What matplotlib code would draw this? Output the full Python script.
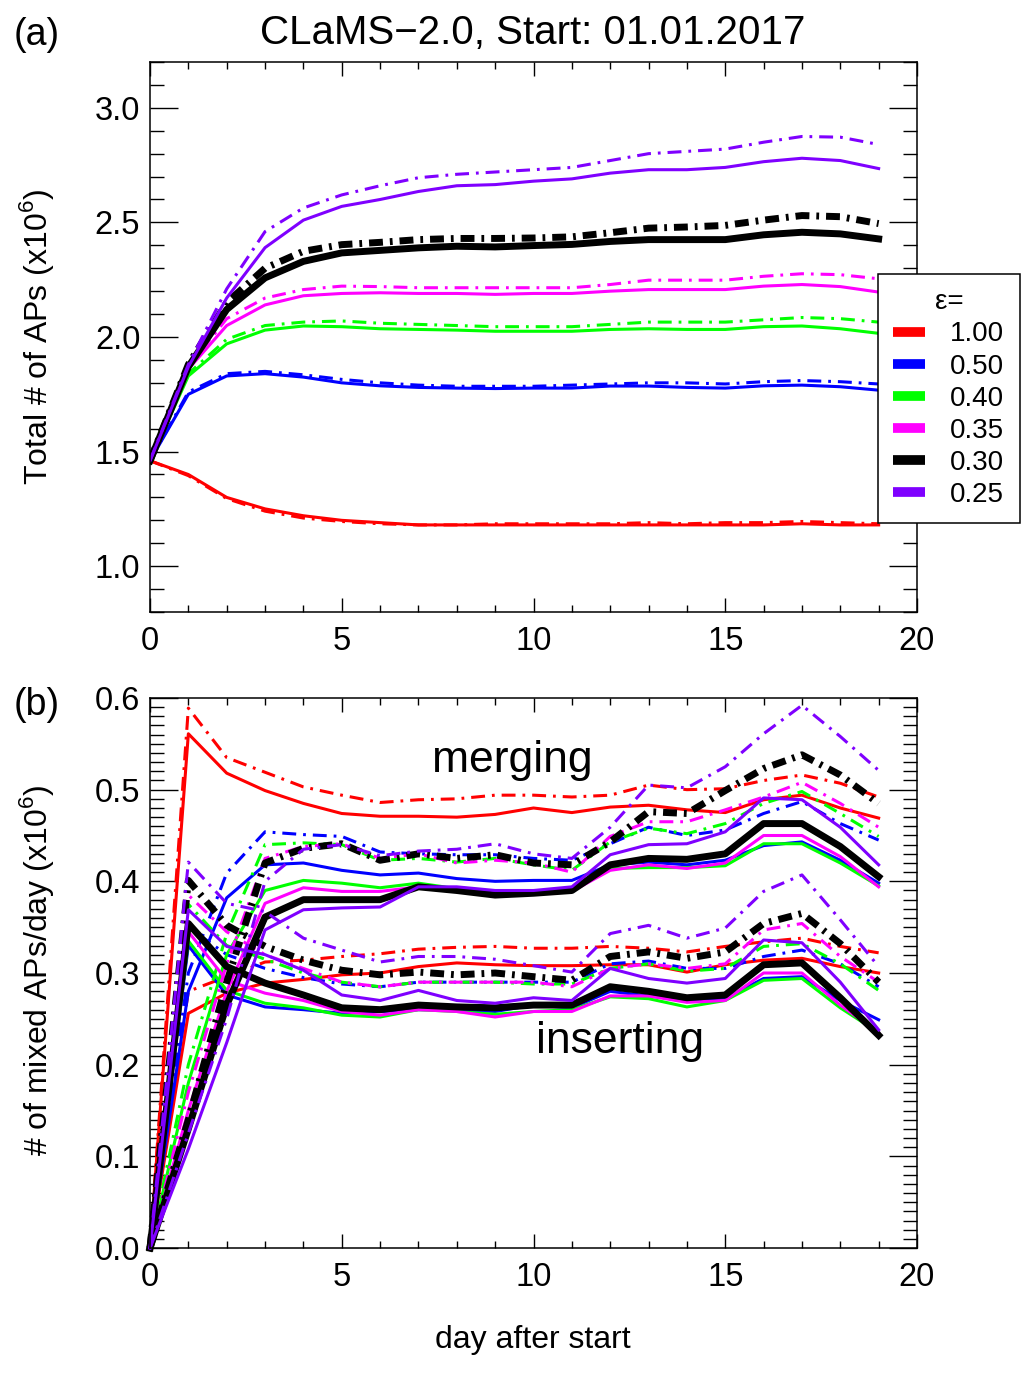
import matplotlib
matplotlib.use("Agg")
import matplotlib.pyplot as plt
from matplotlib.lines import Line2D
from matplotlib.ticker import MultipleLocator

plt.rcParams['font.family'] = ['Liberation Sans', 'DejaVu Sans']
plt.rcParams['mathtext.fontset'] = 'custom'
plt.rcParams['mathtext.rm'] = 'Liberation Sans'
plt.rcParams['lines.scale_dashes'] = False

# Tage nach Start und Epsilon-Werte
days = list(range(20))
eps_labels = ['1.00', '0.50', '0.40', '0.35', '0.30', '0.25']
colors = ['#ff0000', '#0000ff', '#00ff00', '#ff00ff', '#000000', '#7f00ff']

# (a) Gesamtzahl APs (x10^6), durchgezogen und strich-punkt, Reihenfolge wie eps_labels
total_solid = [
    [1.46, 1.40, 1.30, 1.25, 1.22, 1.20, 1.19, 1.18, 1.18, 1.18, 1.18, 1.18, 1.18, 1.18, 1.18, 1.18, 1.18, 1.185, 1.18, 1.18],
    [1.46, 1.75, 1.83, 1.84, 1.825, 1.80, 1.787, 1.78, 1.777, 1.775, 1.777, 1.777, 1.786, 1.786, 1.78, 1.777, 1.787, 1.79, 1.783, 1.768],
    [1.46, 1.83, 1.97, 2.03, 2.048, 2.045, 2.036, 2.033, 2.03, 2.025, 2.025, 2.025, 2.033, 2.036, 2.033, 2.033, 2.045, 2.048, 2.036, 2.016],
    [1.46, 1.86, 2.05, 2.14, 2.18, 2.19, 2.193, 2.19, 2.19, 2.186, 2.19, 2.19, 2.20, 2.207, 2.207, 2.207, 2.222, 2.229, 2.22, 2.196],
    [1.46, 1.87, 2.12, 2.258, 2.33, 2.367, 2.378, 2.389, 2.396, 2.393, 2.399, 2.404, 2.417, 2.425, 2.425, 2.425, 2.446, 2.457, 2.45, 2.428],
    [1.46, 1.87, 2.17, 2.39, 2.51, 2.57, 2.60, 2.635, 2.66, 2.665, 2.68, 2.69, 2.715, 2.73, 2.73, 2.74, 2.765, 2.78, 2.77, 2.735],
]
total_dash = [
    [1.46, 1.395, 1.295, 1.24, 1.21, 1.195, 1.185, 1.18, 1.18, 1.185, 1.185, 1.185, 1.185, 1.19, 1.185, 1.19, 1.19, 1.195, 1.19, 1.185],
    [1.46, 1.76, 1.84, 1.85, 1.835, 1.815, 1.80, 1.79, 1.785, 1.785, 1.785, 1.79, 1.795, 1.80, 1.80, 1.795, 1.805, 1.81, 1.805, 1.795],
    [1.46, 1.84, 1.99, 2.05, 2.065, 2.07, 2.06, 2.055, 2.05, 2.045, 2.045, 2.045, 2.055, 2.065, 2.065, 2.065, 2.075, 2.085, 2.08, 2.065],
    [1.46, 1.87, 2.08, 2.17, 2.207, 2.222, 2.22, 2.215, 2.215, 2.215, 2.215, 2.215, 2.229, 2.248, 2.248, 2.248, 2.265, 2.276, 2.272, 2.254],
    [1.46, 1.88, 2.15, 2.30, 2.374, 2.403, 2.413, 2.425, 2.43, 2.43, 2.432, 2.437, 2.455, 2.475, 2.48, 2.487, 2.51, 2.53, 2.525, 2.495],
    [1.46, 1.88, 2.21, 2.46, 2.563, 2.62, 2.66, 2.695, 2.71, 2.72, 2.73, 2.74, 2.77, 2.80, 2.81, 2.82, 2.85, 2.875, 2.872, 2.84],
]

# (b) gemischte APs pro Tag (x10^6): merging / inserting
merge_solid = [
    [0, 0.561, 0.518, 0.499, 0.485, 0.474, 0.471, 0.471, 0.470, 0.473, 0.480, 0.475, 0.481, 0.483, 0.478, 0.475, 0.489, 0.494, 0.480, 0.469],
    [0, 0.28, 0.382, 0.418, 0.420, 0.412, 0.407, 0.409, 0.403, 0.400, 0.401, 0.401, 0.418, 0.421, 0.418, 0.423, 0.439, 0.443, 0.423, 0.398],
    [0, 0.18, 0.32, 0.390, 0.401, 0.398, 0.393, 0.398, 0.392, 0.388, 0.388, 0.390, 0.414, 0.415, 0.415, 0.417, 0.441, 0.441, 0.420, 0.395],
    [0, 0.15, 0.28, 0.376, 0.393, 0.389, 0.389, 0.394, 0.392, 0.387, 0.388, 0.389, 0.412, 0.418, 0.414, 0.420, 0.450, 0.450, 0.427, 0.394],
    [0, 0.13, 0.265, 0.361, 0.380, 0.380, 0.380, 0.394, 0.390, 0.385, 0.387, 0.390, 0.418, 0.425, 0.424, 0.430, 0.463, 0.463, 0.438, 0.405],
    [0, 0.108, 0.224, 0.347, 0.369, 0.371, 0.372, 0.394, 0.394, 0.390, 0.390, 0.394, 0.429, 0.440, 0.441, 0.454, 0.491, 0.489, 0.459, 0.418],
]
merge_dash = [
    [0, 0.589, 0.535, 0.519, 0.503, 0.494, 0.486, 0.489, 0.490, 0.494, 0.494, 0.492, 0.494, 0.505, 0.500, 0.501, 0.510, 0.516, 0.507, 0.492],
    [0, 0.30, 0.409, 0.454, 0.451, 0.449, 0.432, 0.430, 0.429, 0.429, 0.425, 0.423, 0.441, 0.459, 0.450, 0.456, 0.474, 0.487, 0.463, 0.445],
    [0, 0.20, 0.343, 0.440, 0.442, 0.440, 0.423, 0.425, 0.421, 0.425, 0.418, 0.412, 0.443, 0.458, 0.452, 0.463, 0.485, 0.498, 0.474, 0.449],
    [0, 0.17, 0.31, 0.425, 0.438, 0.441, 0.425, 0.430, 0.420, 0.423, 0.420, 0.410, 0.449, 0.465, 0.465, 0.478, 0.492, 0.508, 0.485, 0.459],
    [0, 0.14, 0.29, 0.420, 0.436, 0.441, 0.423, 0.430, 0.425, 0.429, 0.420, 0.418, 0.443, 0.476, 0.474, 0.499, 0.523, 0.538, 0.516, 0.485],
    [0, 0.125, 0.25, 0.40, 0.435, 0.440, 0.428, 0.433, 0.435, 0.441, 0.430, 0.425, 0.459, 0.505, 0.502, 0.525, 0.561, 0.592, 0.558, 0.521],
]
insert_solid = [
    [0, 0.256, 0.278, 0.289, 0.293, 0.298, 0.300, 0.307, 0.311, 0.309, 0.308, 0.308, 0.309, 0.309, 0.301, 0.309, 0.314, 0.316, 0.307, 0.300],
    [0, 0.33, 0.276, 0.263, 0.260, 0.256, 0.258, 0.260, 0.260, 0.258, 0.265, 0.262, 0.280, 0.275, 0.270, 0.272, 0.294, 0.296, 0.270, 0.249],
    [0, 0.335, 0.281, 0.267, 0.262, 0.254, 0.252, 0.260, 0.258, 0.255, 0.258, 0.260, 0.274, 0.272, 0.263, 0.270, 0.292, 0.294, 0.262, 0.235],
    [0, 0.345, 0.292, 0.278, 0.270, 0.258, 0.254, 0.260, 0.258, 0.252, 0.258, 0.258, 0.275, 0.275, 0.268, 0.270, 0.300, 0.300, 0.265, 0.235],
    [0, 0.354, 0.307, 0.289, 0.276, 0.262, 0.260, 0.265, 0.263, 0.262, 0.265, 0.265, 0.285, 0.280, 0.273, 0.276, 0.309, 0.311, 0.273, 0.232],
    [0, 0.369, 0.329, 0.320, 0.303, 0.276, 0.270, 0.281, 0.270, 0.267, 0.273, 0.270, 0.305, 0.294, 0.289, 0.294, 0.336, 0.333, 0.290, 0.238],
]
insert_dash = [
    [0, 0.28, 0.296, 0.312, 0.314, 0.318, 0.321, 0.326, 0.328, 0.329, 0.327, 0.327, 0.329, 0.327, 0.323, 0.329, 0.334, 0.338, 0.329, 0.322],
    [0, 0.35, 0.32, 0.305, 0.295, 0.288, 0.285, 0.290, 0.290, 0.290, 0.290, 0.290, 0.310, 0.313, 0.305, 0.305, 0.318, 0.325, 0.310, 0.285],
    [0, 0.375, 0.33, 0.315, 0.300, 0.290, 0.285, 0.290, 0.290, 0.290, 0.288, 0.288, 0.305, 0.310, 0.302, 0.305, 0.329, 0.332, 0.310, 0.281],
    [0, 0.385, 0.345, 0.320, 0.305, 0.290, 0.285, 0.290, 0.290, 0.290, 0.290, 0.285, 0.305, 0.310, 0.305, 0.310, 0.347, 0.354, 0.318, 0.290],
    [0, 0.401, 0.352, 0.329, 0.314, 0.303, 0.298, 0.301, 0.298, 0.300, 0.296, 0.292, 0.318, 0.323, 0.316, 0.323, 0.354, 0.365, 0.332, 0.290],
    [0, 0.421, 0.376, 0.367, 0.338, 0.325, 0.312, 0.318, 0.318, 0.315, 0.308, 0.301, 0.343, 0.352, 0.338, 0.349, 0.389, 0.407, 0.358, 0.307],
]

W, H = 1033, 1375
fig = plt.figure(figsize=(W / 100, H / 100), dpi=100)
ax1 = fig.add_axes([150 / W, 1 - 612 / H, 767 / W, 550 / H])
ax2 = fig.add_axes([150 / W, 1 - 1248 / H, 767 / W, 550 / H])

dashdot = (0, (10, 5, 2, 5))


def lw_for(c):
    return 5.0 if c == '#000000' else 2.2


for i, c in enumerate(colors):
    ax1.plot(days, total_solid[i], color=c, lw=lw_for(c))
    ax1.plot(days, total_dash[i], color=c, lw=lw_for(c), linestyle=dashdot)

for i, c in enumerate(colors):
    for series, ls in ((merge_solid, '-'), (merge_dash, dashdot),
                       (insert_solid, '-'), (insert_dash, dashdot)):
        ax2.plot(days, series[i], color=c, lw=lw_for(c), linestyle=ls,
                 clip_on=False)

ax1.set_xlim(0, 20)
ax1.set_ylim(0.8, 3.2)
ax1.yaxis.set_major_locator(MultipleLocator(0.5))
ax1.yaxis.set_minor_locator(MultipleLocator(0.1))

ax2.set_xlim(0, 20)
ax2.set_ylim(0, 0.6)
ax2.yaxis.set_major_locator(MultipleLocator(0.1))
ax2.yaxis.set_minor_locator(MultipleLocator(0.01))

for ax in (ax1, ax2):
    ax.xaxis.set_major_locator(MultipleLocator(5))
    ax.xaxis.set_minor_locator(MultipleLocator(1))
    ax.tick_params(which='both', direction='in', top=True, right=True,
                   labelsize=23.5, width=1)
    ax.tick_params(axis='y', which='major', length=20, pad=7)
    ax.tick_params(axis='y', which='minor', length=10)
    ax.tick_params(axis='x', which='major', length=10, pad=10)
    ax.tick_params(axis='x', which='minor', length=5)
    for s in ax.spines.values():
        s.set_linewidth(1.1)

ax2.text(9.44, 0.532, 'merging', fontsize=32, ha='center', va='center')
ax2.text(12.26, 0.225, 'inserting', fontsize=32, ha='center', va='center')

fig.text(533 / W, 1 - 33 / H, 'CLaMS\u22122.0, Start: 01.01.2017',
         fontsize=29, ha='center', va='center')
fig.text(37 / W, 1 - 35 / H, '(a)', fontsize=27, ha='center', va='center')
fig.text(37 / W, 1 - 705 / H, '(b)', fontsize=27, ha='center', va='center')
fig.text(37 / W, 1 - 337 / H, 'Total # of APs (x10$^6$)', fontsize=23,
         rotation=90, ha='center', va='center')
fig.text(37 / W, 1 - 970 / H, '# of mixed APs/day (x10$^6$)', fontsize=23,
         rotation=90, ha='center', va='center')
fig.text(533 / W, 1 - 1340 / H, 'day after start', fontsize=23,
         ha='center', va='center')

handles = [Line2D([], [], color=c, lw=7, solid_capstyle='butt') for c in colors]
leg = fig.legend(handles, eps_labels, title='\u03b5=', loc='upper left',
                 bbox_to_anchor=(878 / W, 1 - 274 / H), borderaxespad=0,
                 fontsize=20, title_fontsize=20, frameon=True, fancybox=False,
                 edgecolor='black', framealpha=1, handlelength=1.15,
                 handletextpad=0.9, labelspacing=0.22, borderpad=0.55)
leg.get_frame().set_linewidth(1.1)

fig.savefig('out.png', dpi=100)
